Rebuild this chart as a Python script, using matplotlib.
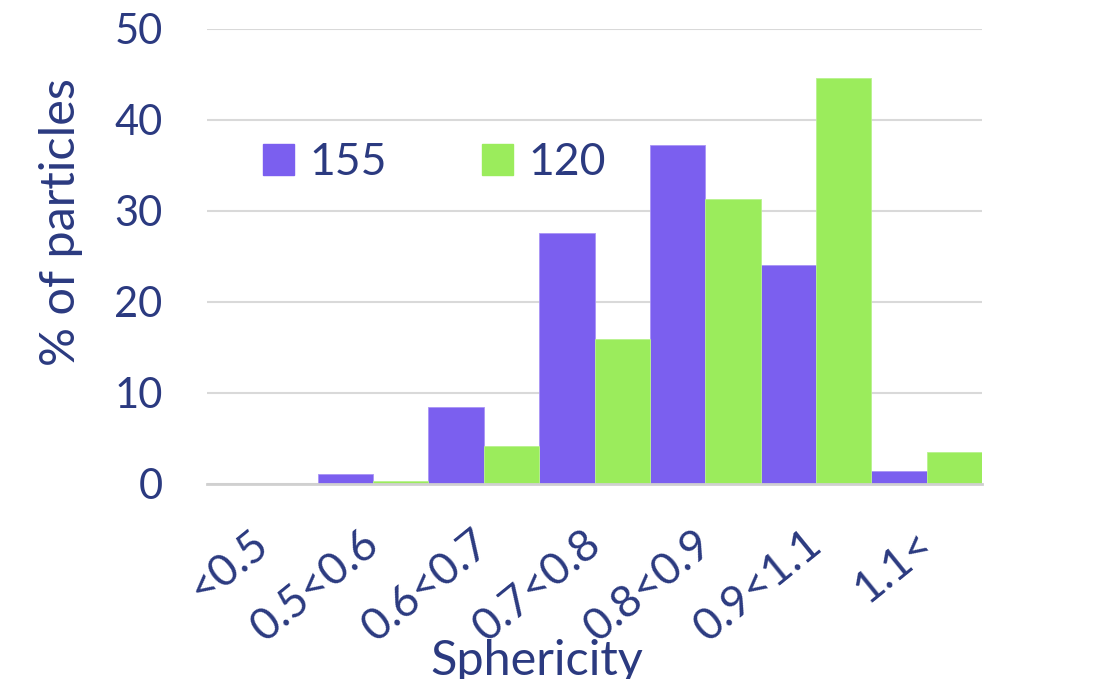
import numpy as np
import matplotlib.pyplot as plt
from matplotlib.patches import Patch
from matplotlib.transforms import ScaledTranslation

# sphericity classes and share of particles (%) for each batch
categories = ['<0.5', '0.5<0.6', '0.6<0.7', '0.7<0.8', '0.8<0.9', '0.9<1.1', '1.1<']
s155 = [0.0, 1.1, 8.5, 27.6, 37.3, 24.1, 1.4]
s120 = [0.0, 0.3, 4.2, 15.9, 31.3, 44.6, 3.5]
names = ['155', '120']

navy = '#2b3a80'
purple = '#7b5fef'
green = '#9bec5c'

plt.rcParams['font.family'] = ['Lato', 'DejaVu Sans']

fig = plt.figure(figsize=(11.1, 6.79), dpi=100)
ax = fig.add_axes([0.1865, 0.2872, 0.6982, 0.6701])

x = np.arange(len(categories))
w = 0.5
ax.bar(x - w / 2, s155, w, color=purple, edgecolor='#a994f5', linewidth=0.6, zorder=3)
ax.bar(x + w / 2, s120, w, color=green, edgecolor='#b8f28e', linewidth=0.6, zorder=3)

ax.set_xlim(-0.5, len(categories) - 0.5)
ax.set_ylim(0, 50)
ax.set_yticks(range(0, 51, 10))
ax.grid(axis='y', color='#d9d9d9', linewidth=1.5, zorder=0)
for s in ['top', 'right', 'left']:
    ax.spines[s].set_visible(False)
ax.spines['bottom'].set_color('#d0d0d0')
ax.spines['bottom'].set_linewidth(2)
ax.spines['bottom'].set_zorder(4)
ax.tick_params(axis='both', length=0, labelcolor=navy, labelsize=30)
ax.tick_params(axis='y', pad=32)

ax.set_xticks(x)
ax.set_xticklabels(categories, rotation=39, ha='right', va='top',
                   rotation_mode='anchor', fontsize=32)
ax.tick_params(axis='x', pad=22)
# nudge the slanted labels a little left and down
shift = ScaledTranslation(-0.12, -0.08, fig.dpi_scale_trans)
for lab in ax.get_xticklabels():
    lab.set_transform(lab.get_transform() + shift)

fig.text(0.055, 0.673, '% of particles', rotation=90, ha='center', va='center',
         color=navy, fontsize=35)
fig.text(0.4833, 0.0059, 'Sphericity', ha='center', va='baseline',
         color=navy, fontsize=35)

# top-cut title, only its descender reaches into the canvas
fig.text(0.573, 1.042, 'g', ha='center', va='baseline', color=navy, fontsize=40)

handles = [Patch(color=purple), Patch(color=green)]
ax.legend(handles, names, loc='upper left', bbox_to_anchor=(0.02, 0.84), ncol=2,
          frameon=False, fontsize=32, labelcolor=navy, handlelength=0.7,
          handleheight=0.7, handletextpad=0.35, columnspacing=2.15)

fig.savefig('out.png', dpi=100)
